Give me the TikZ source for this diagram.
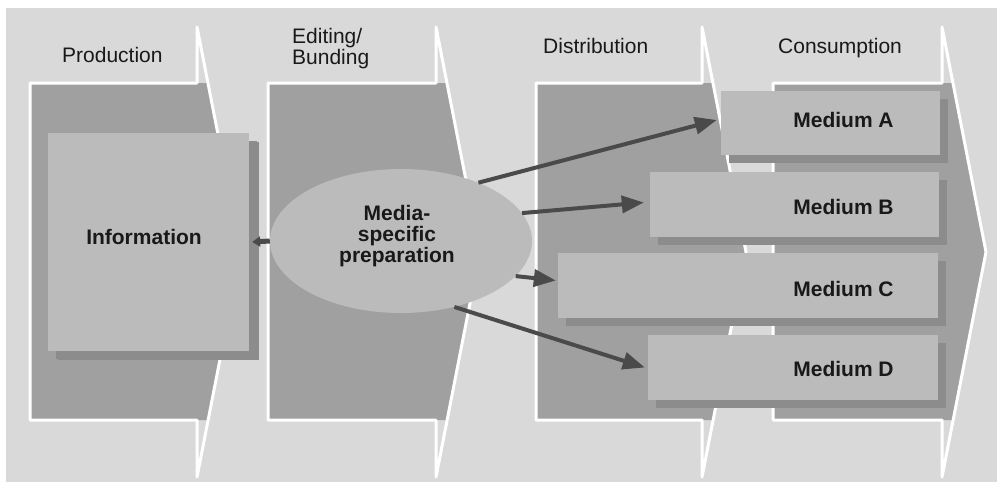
\documentclass[tikz,border=0pt]{standalone}
\usepackage{fontspec}
\setmainfont{Liberation Sans}
\usetikzlibrary{arrows.meta,shapes.geometric,shadows}
\definecolor{bgc}{HTML}{D9D9D9}
\definecolor{stagec}{HTML}{A0A0A0}
\definecolor{boxc}{HTML}{BBBBBB}
\definecolor{shc}{HTML}{8C8C8C}
\definecolor{arrc}{HTML}{4A4A4A}
\newcommand\chevron[2]{%
  \fill[stagec] (#1,83) -- ({#2+10.95},83) -- ({#2+44},252) -- ({#2+11.15},420) -- (#1,420) -- cycle;
  \draw[outl] (#1,83) -- (#2,83) -- (#2,27) -- ({#2+44},252) -- (#2,477) -- (#2,420) -- (#1,420) -- cycle;}
\newcommand\movetext[3]{\hspace*{-#1}\raisebox{#2}[\height][\depth]{#3}\hspace*{#1}}
\begin{document}
\begin{tikzpicture}[x=1pt,y=-1pt,
  outl/.style={draw=white,line width=3pt,line join=round},
  hdr/.style={font=\fontsize{21}{21}\selectfont,inner sep=0pt,text=black!90},
  lbl/.style={font=\fontsize{21}{20.5}\selectfont\bfseries,text=black!90},
  boxnode/.style={fill=boxc,inner sep=0pt,
    drop shadow={shadow xshift=8pt,shadow yshift=-8pt,fill=shc,opacity=1}},
  arr/.style={draw=arrc,line width=4pt,-{Triangle[length=22pt,width=17pt]}},
  arrshort/.style={draw=arrc,line width=5pt,-{Triangle[length=8pt,width=10pt]}}]
\useasboundingbox (0,0) rectangle (997,482);
\fill[bgc] (6,8) rectangle (997,482);
% stages
\chevron{30}{197}
\chevron{268}{436}
\chevron{536}{702}
\chevron{773}{942}
% headers
\node[hdr,anchor=base west] (hprod) at (62,62) {Production};
\node[hdr,anchor=north west,align=left] (hedit) at (292,28) {Editing/\\Bunding};
\node[hdr,anchor=base west] (hdist) at (543,53) {Distribution};
\node[hdr,anchor=base west] (hcons) at (778,53) {Consumption};
% information
\node[boxnode,lbl,minimum width=201pt,minimum height=218pt,
  drop shadow={shadow xshift=10pt,shadow yshift=-9pt,fill=shc,opacity=1}] (info) at (148.5,242)
  {\movetext{4.5pt}{5pt}{Information}};
% ellipse
\node[ellipse,fill=boxc,minimum width=262pt,minimum height=144pt,inner sep=0pt,lbl] (ell) at (401,241)
  {\movetext{4pt}{4pt}{\begin{tabular}{@{}c@{}}Media-\\specific\\preparation\end{tabular}}};
% media boxes
\node[boxnode,minimum width=219pt,minimum height=64pt] (mA) at (830.5,123) {};
\node[boxnode,minimum width=289pt,minimum height=65pt] (mB) at (794.5,204.5) {};
\node[boxnode,minimum width=380pt,minimum height=65pt] (mC) at (748,285.5) {};
\node[boxnode,minimum width=290pt,minimum height=65pt] (mD) at (793,367.5) {};
\node[lbl,inner sep=0pt] (lA) at (843.5,120) {Medium A};
\node[lbl,inner sep=0pt] (lB) at (843.5,207) {Medium B};
\node[lbl,inner sep=0pt] (lC) at (843.5,289) {Medium C};
\node[lbl,inner sep=0pt] (lD) at (843.5,369) {Medium D};
% arrows
\draw[arrshort] (ell.west) -- ([xshift=3pt]info.east);
\draw[arr] (ell.37) -- ([xshift=-4pt,yshift=3pt]mA.west);
\draw[arr] (ell.13) -- ([xshift=-6pt,yshift=2pt]mB.west);
\draw[arr] (ell.-17) -- ([xshift=-2pt,yshift=5pt]mC.west);
\draw[arr] (ell.-51) -- ([xshift=-3pt]mD.west);
\end{tikzpicture}
\end{document}
